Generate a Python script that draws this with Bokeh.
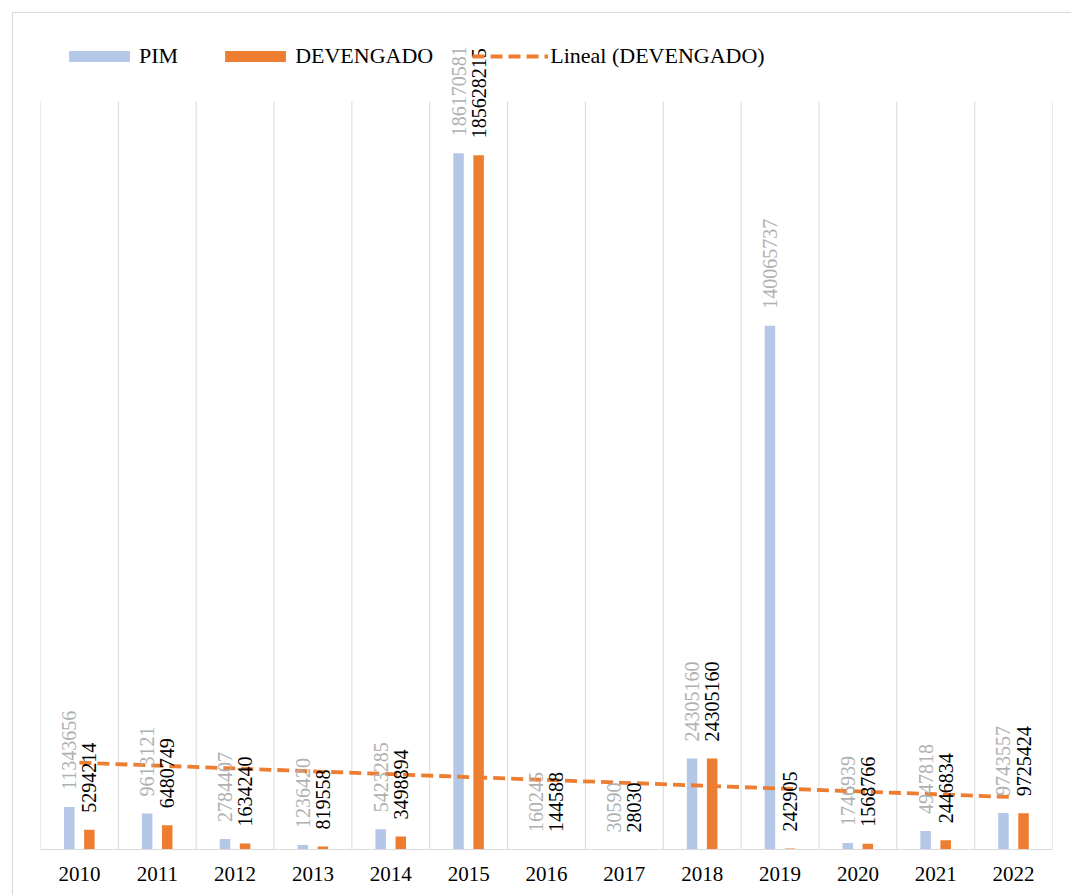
import numpy as np
from bokeh.plotting import figure
from bokeh.models import Range1d, FactorRange, ColumnDataSource, Legend, LegendItem
from bokeh.transform import dodge
from bokeh.core.properties import value
from bokeh.embed import file_html
from bokeh.resources import INLINE

years = ["2010", "2011", "2012", "2013", "2014", "2015", "2016",
         "2017", "2018", "2019", "2020", "2021", "2022"]
pim = [11343656, 9613121, 2784407, 1236420, 5423285, 186170581, 160245,
       30590, 24305160, 140065737, 1746939, 4947818, 9743557]
devengado = [5294214, 6480749, 1634240, 819558, 3498894, 185628215, 144588,
             28030, 24305160, 242905, 1568766, 2446834, 9725424]

# linear trend (like Excel "Lineal") fitted on category index 1..n
idx = np.arange(1, len(years) + 1)
slope, intercept = np.polyfit(idx, np.array(devengado, dtype=float), 1)
trend = list(slope * idx + intercept)

src = ColumnDataSource(dict(
    year=years, pim=pim, dev=devengado,
    pim_lbl=[str(v) for v in pim], dev_lbl=[str(v) for v in devengado],
    trend=trend,
))

FONT = "Liberation Serif"

p = figure(width=1059, height=883, output_backend="svg", toolbar_location=None,
           x_range=FactorRange(*years, range_padding=0),
           y_range=Range1d(0, 220.86e6),
           y_axis_type=None,
           min_border_left=27, min_border_right=20,
           min_border_top=10, min_border_bottom=47,
           styles={"margin-left": "12px", "margin-top": "12px",
                   "border-left": "1px solid #d9d9d9",
                   "border-top": "1px solid #d9d9d9"})
p.outline_line_color = None
p.background_fill_color = "white"
p.border_fill_color = "white"
p.xgrid.visible = False

# category boundary grid lines up to 200M
bounds = list(range(len(years) + 1))
p.segment(x0=bounds, y0=[0] * len(bounds), x1=bounds, y1=[200e6] * len(bounds),
          line_color="#d9d9d9", line_width=1)

bw = 0.135
r_pim = p.vbar(x=dodge("year", -0.13, range=p.x_range), top="pim", width=bw,
               source=src, fill_color="#b4c7e7", line_color=None)
r_dev = p.vbar(x=dodge("year", 0.128, range=p.x_range), top="dev", width=bw,
               source=src, fill_color="#ed7d31", line_color=None)

r_trend = p.line(x="year", y="trend", source=src, line_color="#ed7d31",
                 line_width=3.8, line_dash="12 6")

p.text(x=dodge("year", -0.13, range=p.x_range), y="pim", text="pim_lbl", source=src,
       angle=np.pi / 2, y_offset=-17, text_align="left", text_baseline="middle",
       text_font=value(FONT), text_font_size="20px", text_color="#b0b0b0")
p.text(x=dodge("year", 0.128, range=p.x_range), y="dev", text="dev_lbl", source=src,
       angle=np.pi / 2, y_offset=-17, text_align="left", text_baseline="middle",
       text_font=value(FONT), text_font_size="20px", text_color="#000000")

ax = p.xaxis[0]
ax.axis_line_color = "#d9d9d9"
ax.major_tick_line_color = None
ax.minor_tick_line_color = None
ax.major_tick_out = 0
ax.major_tick_in = 0
ax.major_label_standoff = 17
ax.major_label_text_font = FONT
ax.major_label_text_font_size = "21px"
ax.major_label_text_color = "#000000"

legend = Legend(items=[
    LegendItem(label="PIM", renderers=[r_pim]),
    LegendItem(label="DEVENGADO", renderers=[r_dev]),
    LegendItem(label="Lineal (DEVENGADO)", renderers=[r_trend]),
], orientation="horizontal", location=(21, 780))
legend.padding = 0
legend.margin = 0
legend.spacing = 39
legend.label_standoff = 2
legend.glyph_width = 76
legend.glyph_height = 14
legend.label_height = 20
legend.border_line_color = None
legend.background_fill_alpha = 0
legend.label_text_font = FONT
legend.label_text_font_size = "22px"
legend.label_text_color = "#000000"
p.add_layout(legend, "center")

open("out.html", "w").write(file_html(p, INLINE))
